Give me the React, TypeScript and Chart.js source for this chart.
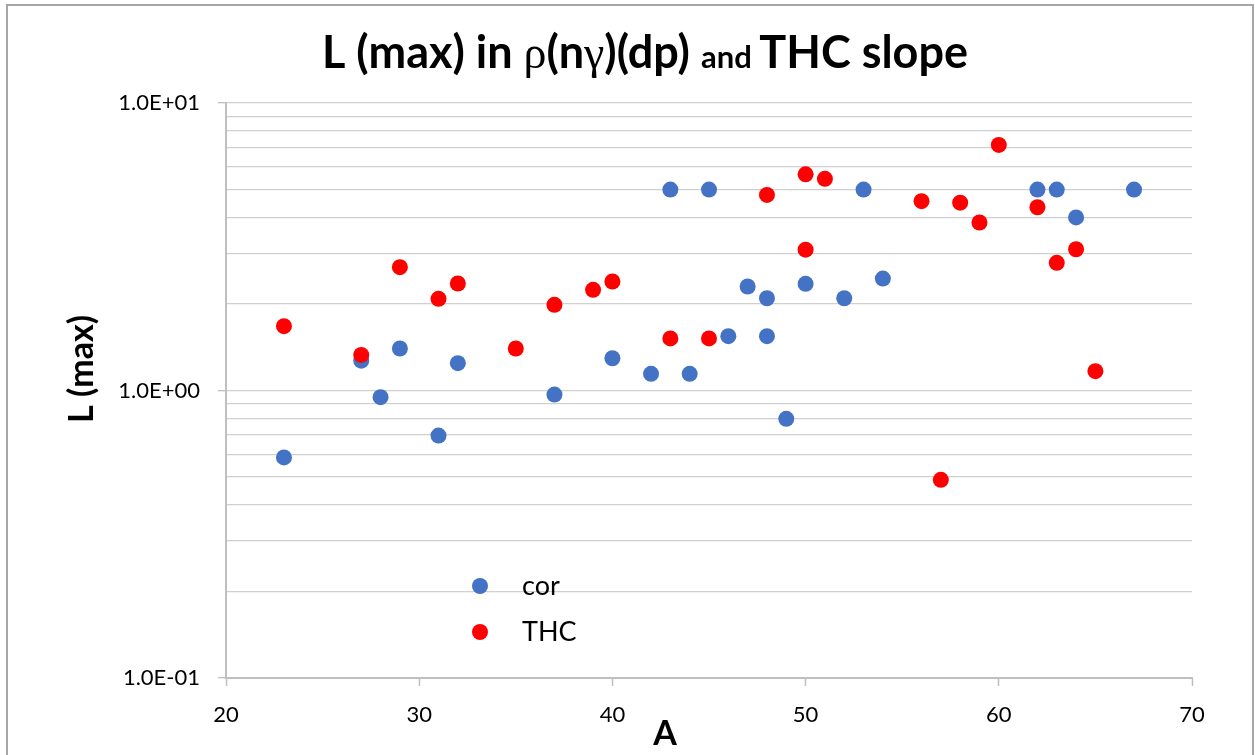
import React, { useEffect, useRef } from "react";
import { Chart, registerables } from "chart.js";

Chart.register(...registerables);

// ---- data ----
const corA = [23, 27, 28, 29, 31, 32, 37, 40, 42, 43, 44, 45, 46, 47, 48, 48, 49, 50, 52, 53, 54, 62, 63, 64, 67];
const corL = [0.585, 1.27, 0.948, 1.4, 0.697, 1.245, 0.968, 1.295, 1.143, 5.0, 1.143, 5.0, 1.545, 2.3, 2.094, 1.545, 0.797, 2.35, 2.094, 5.0, 2.45, 5.0, 5.0, 4.0, 5.0];
const thcA = [23, 27, 29, 31, 32, 35, 37, 39, 40, 43, 45, 48, 50, 50, 51, 56, 57, 58, 59, 60, 62, 63, 64, 65];
const thcL = [1.674, 1.33, 2.685, 2.084, 2.356, 1.4, 1.986, 2.24, 2.394, 1.517, 1.517, 4.79, 5.65, 3.09, 5.45, 4.555, 0.489, 4.5, 3.84, 7.15, 4.34, 2.78, 3.1, 1.167];

const yTickValues = [0.1, 0.2, 0.3, 0.4, 0.5, 0.6, 0.7, 0.8, 0.9, 1, 2, 3, 4, 5, 6, 7, 8, 9, 10];
const yMajorValues = [0.1, 1, 10];
const yMajorLabels = ["1.0E-01", "1.0E+00", "1.0E+01"];

const seriesNames = ["cor", "THC"];
const seriesColors = ["#4472C4", "#FF0000"];

const titleParts = [
  { text: "L (max) in ", kind: "bold" },
  { text: "ρ", kind: "greek" },
  { text: "(n", kind: "bold" },
  { text: "γ", kind: "greek" },
  { text: ")(dp) ", kind: "bold" },
  { text: "and ", kind: "small" },
  { text: "THC slope", kind: "bold" },
];
const yTitle = "L (max)";
const xTitle = "A";

const FONT = "Lato, 'Open Sans', sans-serif";

const decorPlugin = {
  id: "decor",
  beforeDraw(chart: any) {
    const ctx = chart.ctx;
    ctx.save();
    ctx.fillStyle = "#ffffff";
    ctx.fillRect(0, 0, chart.width, chart.height);
    ctx.strokeStyle = "#a6a6a6";
    ctx.lineWidth = 2;
    ctx.strokeRect(7, 5, 1246, 760);
    ctx.restore();
  },
  afterDraw(chart: any) {
    const ctx = chart.ctx;
    ctx.save();
    // title
    const fontFor = (k: string) =>
      k === "bold" ? `bold 45px ${FONT}` : k === "small" ? `bold 31px ${FONT}` : `46px 'Liberation Serif', serif`;
    let total = 0;
    for (const p of titleParts) {
      ctx.font = fontFor(p.kind);
      total += ctx.measureText(p.text).width;
    }
    let x = 645 - total / 2;
    ctx.fillStyle = "#000000";
    ctx.textBaseline = "alphabetic";
    ctx.textAlign = "left";
    for (const p of titleParts) {
      ctx.font = fontFor(p.kind);
      ctx.fillText(p.text, x, 68);
      x += ctx.measureText(p.text).width;
    }
    // axis titles
    ctx.font = `bold 34px ${FONT}`;
    ctx.textAlign = "center";
    ctx.textBaseline = "middle";
    ctx.fillText(xTitle, 665, 734);
    ctx.save();
    ctx.translate(82, 369);
    ctx.rotate(-Math.PI / 2);
    ctx.fillText(yTitle, 0, 0);
    ctx.restore();
    // legend
    const items = chart.data.datasets;
    const lx = 480;
    const ly = [586, 632];
    items.forEach((ds: any, i: number) => {
      ctx.beginPath();
      ctx.fillStyle = ds.backgroundColor;
      ctx.arc(lx, ly[i], 8, 0, Math.PI * 2);
      ctx.fill();
      ctx.fillStyle = "#000000";
      ctx.font = `27px ${FONT}`;
      ctx.textAlign = "left";
      ctx.textBaseline = "middle";
      ctx.fillText(ds.label, lx + 42, ly[i]);
    });
    ctx.restore();
  },
};

export default function App() {
  const ref = useRef<HTMLCanvasElement | null>(null);
  useEffect(() => {
    if (!ref.current) return;
    const chart = new Chart(ref.current, {
      type: "scatter",
      data: {
        datasets: [
          {
            label: seriesNames[0],
            data: corA.map((a, i) => ({ x: a, y: corL[i] })),
            backgroundColor: seriesColors[0],
            borderColor: seriesColors[0],
            pointRadius: 8,
            pointBorderWidth: 0,
            order: 1,
          },
          {
            label: seriesNames[1],
            data: thcA.map((a, i) => ({ x: a, y: thcL[i] })),
            backgroundColor: seriesColors[1],
            borderColor: seriesColors[1],
            pointRadius: 8,
            pointBorderWidth: 0,
            order: 0,
          },
        ],
      },
      options: {
        responsive: false,
        animation: false,
        devicePixelRatio: 1,
        layout: { padding: { left: 0, top: 103, right: 63, bottom: 0 } },
        plugins: {
          legend: { display: false },
          title: { display: false },
          tooltip: { enabled: false },
        },
        scales: {
          x: {
            type: "linear",
            min: 20,
            max: 70,
            afterFit: (s: any) => {
              s.height = 77;
            },
            ticks: {
              stepSize: 10,
              padding: 16,
              color: "#000000",
              font: { family: FONT, size: 22 },
            },
            grid: {
              drawOnChartArea: false,
              drawTicks: true,
              tickLength: 8,
              tickColor: "#bfbfbf",
              tickWidth: 1.5,
            },
            border: { display: true, color: "#bfbfbf", width: 2 },
          },
          y: {
            type: "logarithmic",
            min: 0.1,
            max: 10,
            afterFit: (s: any) => {
              s.width = 226;
            },
            afterBuildTicks: (s: any) => {
              s.ticks = yTickValues.map((v) => ({ value: v, major: yMajorValues.includes(v) }));
            },
            ticks: {
              autoSkip: false,
              padding: 18,
              color: "#000000",
              font: { family: FONT, size: 22 },
              callback: (v: any) => {
                const idx = yMajorValues.findIndex((m) => Math.abs(m - Number(v)) < 1e-9);
                return idx >= 0 ? yMajorLabels[idx] : "";
              },
            },
            grid: {
              color: "#d0d0d0",
              lineWidth: 1.3,
              tickLength: 8,
              tickColor: (c: any) =>
                c.tick && yMajorValues.some((m) => Math.abs(m - c.tick.value) < 1e-9) ? "#bfbfbf" : "rgba(0,0,0,0)",
            },
            border: { display: true, color: "#bfbfbf", width: 2 },
          },
        },
      },
      plugins: [decorPlugin],
    } as any);
    return () => chart.destroy();
  }, []);
  return (
    <div style={{ position: "absolute", left: 0, top: 0, width: 1255, height: 755 }}>
      <canvas ref={ref} width={1255} height={755} style={{ display: "block" }} />
    </div>
  );
}
